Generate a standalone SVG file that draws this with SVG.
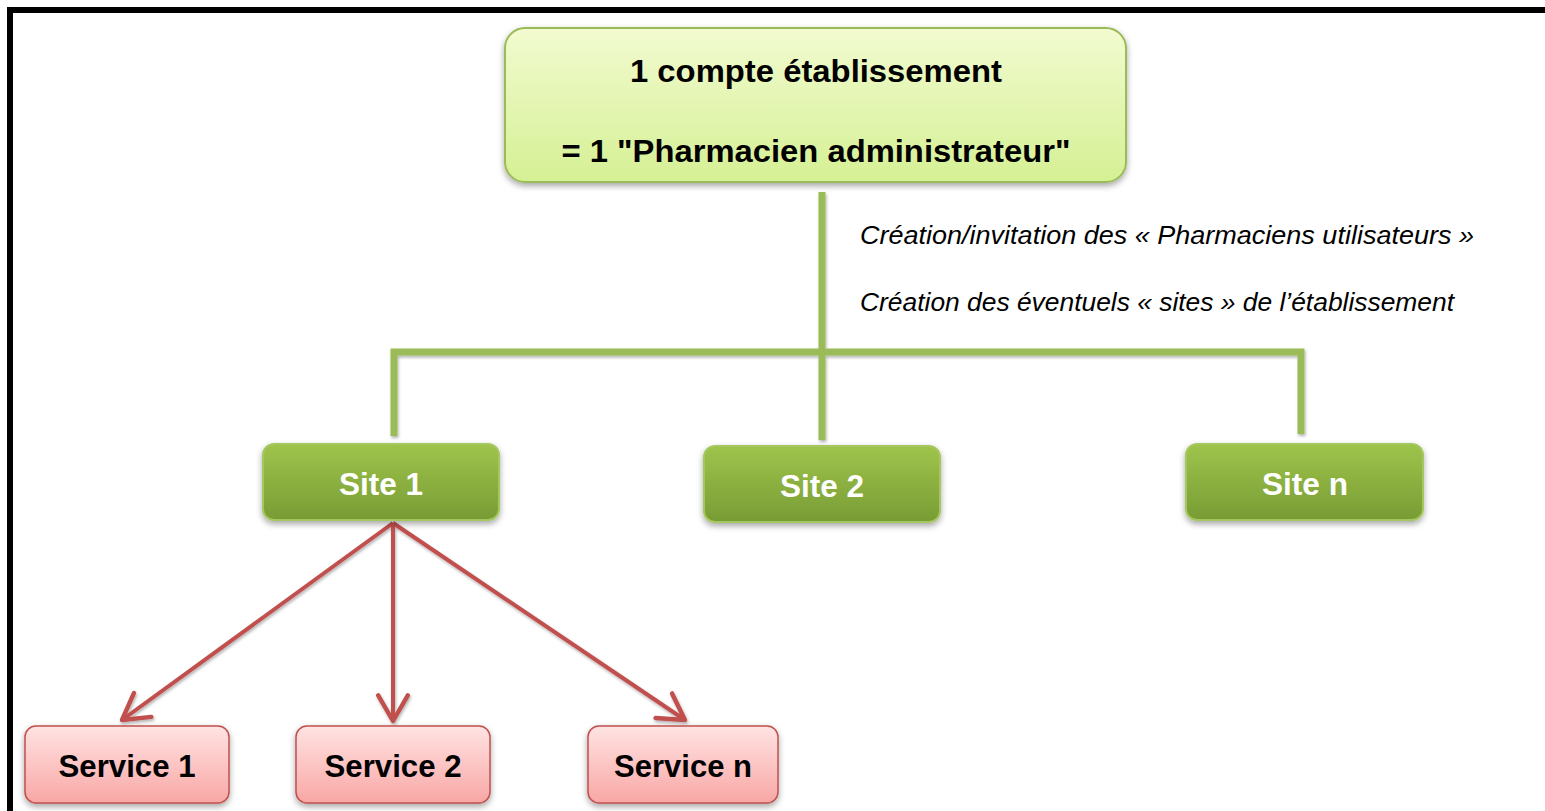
<svg xmlns="http://www.w3.org/2000/svg" width="1545" height="811" viewBox="0 0 1545 811">
<style>
.t{font-family:"Liberation Sans",Arial,sans-serif;font-weight:bold;font-size:32px;text-anchor:middle}
.it{font-family:"Liberation Sans",Arial,sans-serif;font-style:italic;font-size:25px;fill:#000}
.gl{stroke:#9bbb59;stroke-width:7;fill:none}
.ar{stroke:#c0504d;stroke-width:4;fill:none;marker-end:url(#ah)}
</style>
<defs>
<linearGradient id="gTop" x1="0" y1="0" x2="0" y2="1"><stop offset="0" stop-color="#f2fbd0"/><stop offset="1" stop-color="#d5f094"/></linearGradient>
<linearGradient id="gSite" x1="0" y1="0" x2="0" y2="1"><stop offset="0" stop-color="#9fc44c"/><stop offset="1" stop-color="#789c34"/></linearGradient>
<linearGradient id="gSvc" x1="0" y1="0" x2="0" y2="1"><stop offset="0" stop-color="#ffe3e3"/><stop offset="1" stop-color="#f8a7a5"/></linearGradient>
<filter id="sh" x="-10%" y="-10%" width="120%" height="140%"><feDropShadow dx="0" dy="3" stdDeviation="3" flood-color="#000" flood-opacity="0.35"/></filter>
<filter id="shl" x="-10%" y="-10%" width="120%" height="140%"><feDropShadow dx="1" dy="2" stdDeviation="1.5" flood-color="#000" flood-opacity="0.3"/></filter>
<marker id="ah" markerWidth="9" markerHeight="9" refX="7" refY="4.5" orient="auto" markerUnits="strokeWidth"><path d="M0.6,0.8 L7,4.5 L0.6,8.2" fill="none" stroke="#c0504d" stroke-width="1.1" stroke-linejoin="round" stroke-linecap="round"/></marker>
</defs>
<rect x="0" y="0" width="1545" height="811" fill="#fff"/>
<rect x="10" y="10" width="1600" height="900" fill="none" stroke="#000" stroke-width="6"/>

<g id="connectors">
<g filter="url(#shl)">
<line class="gl" x1="822" y1="192" x2="822" y2="352"/>
<polyline class="gl" points="394,436 394,352 1301,352 1301,434"/>
<line class="gl" x1="822" y1="352" x2="822" y2="440"/>
</g>
<g filter="url(#shl)">
<line class="ar" x1="393" y1="523" x2="122" y2="720"/>
<line class="ar" x1="393" y1="523" x2="393" y2="721"/>
<line class="ar" x1="393" y1="523" x2="685" y2="720"/>
</g>
</g>

<text class="it" x="860" y="244" textLength="614" lengthAdjust="spacingAndGlyphs">Création/invitation des « Pharmaciens utilisateurs »</text>
<text class="it" x="860" y="311" textLength="594" lengthAdjust="spacingAndGlyphs">Création des éventuels « sites » de l’établissement</text>

<g id="top">
<rect x="505" y="28" width="621" height="154" rx="20" fill="url(#gTop)" stroke="#9bbb59" stroke-width="2" filter="url(#sh)"/>
<text class="t" x="816" y="82" textLength="372" lengthAdjust="spacingAndGlyphs">1 compte établissement</text>
<text class="t" x="816" y="162" textLength="509" lengthAdjust="spacingAndGlyphs">= 1 "Pharmacien administrateur"</text>
</g>

<g id="site1">
<rect x="263" y="444" width="236" height="76" rx="11" fill="url(#gSite)" stroke="#a5c75e" stroke-width="2" filter="url(#sh)"/>
<text class="t" x="381" y="495" fill="#fff" textLength="84" lengthAdjust="spacingAndGlyphs">Site 1</text>
</g>
<g id="site2">
<rect x="704" y="446" width="236" height="76" rx="11" fill="url(#gSite)" stroke="#a5c75e" stroke-width="2" filter="url(#sh)"/>
<text class="t" x="822" y="497" fill="#fff" textLength="84" lengthAdjust="spacingAndGlyphs">Site 2</text>
</g>
<g id="siten">
<rect x="1186" y="444" width="237" height="76" rx="11" fill="url(#gSite)" stroke="#a5c75e" stroke-width="2" filter="url(#sh)"/>
<text class="t" x="1305" y="495" fill="#fff" textLength="86" lengthAdjust="spacingAndGlyphs">Site n</text>
</g>

<g id="service1">
<rect x="25" y="726" width="204" height="77" rx="11" fill="url(#gSvc)" stroke="#c0504d" stroke-width="1.5" filter="url(#sh)"/>
<text class="t" x="127" y="777" fill="#000" textLength="137" lengthAdjust="spacingAndGlyphs">Service 1</text>
</g>
<g id="service2">
<rect x="296" y="726" width="194" height="77" rx="11" fill="url(#gSvc)" stroke="#c0504d" stroke-width="1.5" filter="url(#sh)"/>
<text class="t" x="393" y="777" fill="#000" textLength="137" lengthAdjust="spacingAndGlyphs">Service 2</text>
</g>
<g id="servicen">
<rect x="588" y="726" width="190" height="77" rx="11" fill="url(#gSvc)" stroke="#c0504d" stroke-width="1.5" filter="url(#sh)"/>
<text class="t" x="683" y="777" fill="#000" textLength="138" lengthAdjust="spacingAndGlyphs">Service n</text>
</g>
</svg>
